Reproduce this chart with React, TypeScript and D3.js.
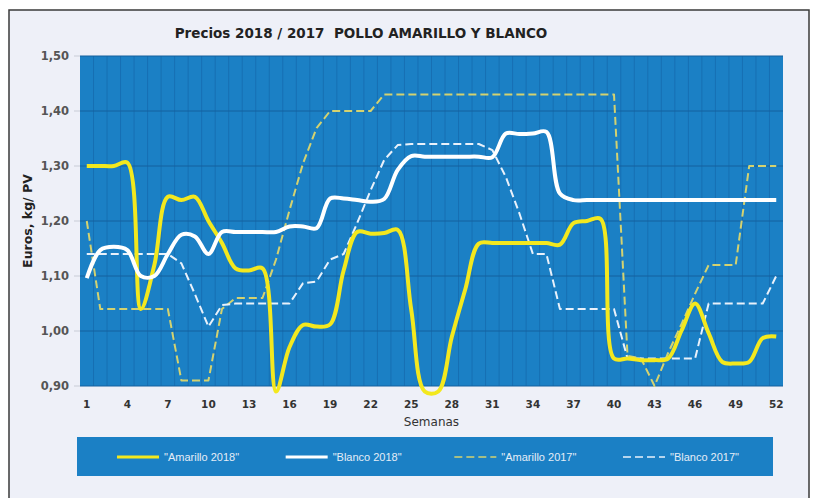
import React from 'react';
import * as d3 from 'd3';

const weeks = d3.range(1, 53);
const xTickWeeks = [1, 4, 7, 10, 13, 16, 19, 22, 25, 28, 31, 34, 37, 40, 43, 46, 49, 52];
const yTicks = [0.9, 1.0, 1.1, 1.2, 1.3, 1.4, 1.5];

const amarillo2018 = [
  1.30, 1.30, 1.30, 1.306, 1.04, 1.12, 1.244, 1.238, 1.244, 1.20,
  1.16, 1.114, 1.11, 1.114, 0.89, 0.971, 1.011, 1.008, 1.012, 1.11,
  1.18, 1.177, 1.178, 1.184, 1.039, 0.89, 0.89, 0.989, 1.076, 1.159,
  1.16, 1.16, 1.16, 1.16, 1.16, 1.157, 1.196, 1.20, 1.204, 0.95,
  0.95, 0.947, 0.947, 0.95, 1.001, 1.05, 0.996, 0.944, 0.941, 0.944,
  0.987, 0.99,
];

const blanco2018 = [
  1.096, 1.147, 1.153, 1.147, 1.10, 1.10, 1.14, 1.175, 1.172, 1.14,
  1.18, 1.18, 1.18, 1.18, 1.18, 1.19, 1.19, 1.187, 1.241, 1.241,
  1.238, 1.235, 1.24, 1.293, 1.318, 1.317, 1.317, 1.317, 1.317, 1.317,
  1.316, 1.359, 1.358, 1.359, 1.362, 1.25, 1.238, 1.238, 1.238, 1.238,
  1.238, 1.238, 1.238, 1.238, 1.238, 1.238, 1.238, 1.238, 1.238, 1.238,
  1.238, 1.238,
];

const amarillo2017 = [
  1.20, 1.04, 1.04, 1.04, 1.04, 1.04, 1.04, 0.91, 0.91, 0.91,
  1.04, 1.06, 1.06, 1.06, 1.13, 1.22, 1.305, 1.369, 1.40, 1.40,
  1.40, 1.40, 1.43, 1.43, 1.43, 1.43, 1.43, 1.43, 1.43, 1.43,
  1.43, 1.43, 1.43, 1.43, 1.43, 1.43, 1.43, 1.43, 1.43, 1.43,
  0.955, 0.95, 0.90, 0.96, 1.013, 1.068, 1.12, 1.12, 1.12, 1.30,
  1.30, 1.30,
];

const blanco2017 = [
  1.14, 1.14, 1.14, 1.14, 1.14, 1.14, 1.14, 1.123, 1.067, 1.008,
  1.047, 1.05, 1.05, 1.05, 1.05, 1.05, 1.087, 1.09, 1.13, 1.14,
  1.196, 1.256, 1.311, 1.338, 1.34, 1.34, 1.34, 1.34, 1.34, 1.34,
  1.329, 1.28, 1.214, 1.14, 1.14, 1.04, 1.04, 1.04, 1.04, 1.04,
  0.95, 0.95, 0.95, 0.95, 0.95, 0.95, 1.05, 1.05, 1.05, 1.05,
  1.05, 1.10,
];

const seriesNames = ['"Amarillo 2018"', '"Blanco 2018"', '"Amarillo 2017"', '"Blanco 2017"'];

const W = 814;
const H = 498;
const plot = { left: 80, top: 56, right: 783, bottom: 386 };

const App: React.FC = () => {
  const x = d3
    .scaleBand<number>()
    .domain(weeks)
    .range([plot.left, plot.right]);
  const cx = (w: number) => (x(w) as number) + x.bandwidth() / 2;

  const y = d3.scaleLinear().domain([0.9, 1.5]).range([plot.bottom, plot.top]);

  const smooth = d3
    .line<number>()
    .x((_, i) => cx(weeks[i]))
    .y(d => y(d))
    .curve(d3.curveCatmullRom.alpha(0.5));

  const straight = d3
    .line<number>()
    .x((_, i) => cx(weeks[i]))
    .y(d => y(d));

  const series = [
    { name: seriesNames[0], values: amarillo2018, color: '#f3e81e', width: 4, dash: '', gen: smooth },
    { name: seriesNames[1], values: blanco2018, color: '#ffffff', width: 4, dash: '', gen: smooth },
    { name: seriesNames[2], values: amarillo2017, color: '#d4d270', width: 2, dash: '8,4', gen: straight },
    { name: seriesNames[3], values: blanco2017, color: '#e9f1fb', width: 2, dash: '8,4', gen: straight },
  ];

  const fmt = (v: number) => d3.format('.2f')(v).replace('.', ',');
  const font = '"DejaVu Sans", Verdana, sans-serif';

  const legendX = d3.scalePoint<number>().domain([0, 1, 2, 3]).range([117, 623]);

  // dashed 2017 first, 2018 on top
  const drawOrder = [2, 3, 0, 1];

  return (
    <svg
      width={W}
      height={H}
      style={{ position: 'absolute', left: 0, top: 0, background: '#ffffff' }}
    >
      <rect x={9} y={10} width={800} height={500} fill="#eef0f8" stroke="#3a3a3a" strokeWidth={1.5} />

      <text
        x={361}
        y={38}
        textAnchor="middle"
        fontFamily={font}
        fontWeight="bold"
        fontSize={13.5}
        fill="#222"
      >
        Precios 2018 / 2017{'\u00a0\u00a0'}POLLO AMARILLO Y BLANCO
      </text>

      {/* plot area */}
      <rect
        x={plot.left}
        y={plot.top}
        width={plot.right - plot.left}
        height={plot.bottom - plot.top}
        fill="#1b80c5"
      />
      {weeks.slice(1).map(w => (
        <line
          key={'v' + w}
          x1={x(w)}
          x2={x(w)}
          y1={plot.top}
          y2={plot.bottom}
          stroke="#176fb3"
          strokeWidth={1}
        />
      ))}
      {yTicks.map(t => (
        <line
          key={'h' + t}
          x1={plot.left}
          x2={plot.right}
          y1={y(t)}
          y2={y(t)}
          stroke="#14609e"
          strokeWidth={1}
        />
      ))}

      {/* y axis */}
      {yTicks.map(t => (
        <g key={'yt' + t}>
          <line x1={74} x2={plot.left} y1={y(t)} y2={y(t)} stroke="#c8ccd6" />
          <text
            x={69}
            y={y(t)}
            dy="0.35em"
            textAnchor="end"
            fontFamily={font}
            fontWeight="bold"
            fontSize={11.5}
            fill="#555"
          >
            {fmt(t)}
          </text>
        </g>
      ))}
      <text
        transform={`translate(32, ${(plot.top + plot.bottom) / 2}) rotate(-90)`}
        textAnchor="middle"
        fontFamily={font}
        fontWeight="bold"
        fontSize={12.5}
        fill="#222"
      >
        Euros, kg/ PV
      </text>

      {/* x axis */}
      {xTickWeeks.map(w => (
        <text
          key={'xt' + w}
          x={cx(w)}
          y={408}
          textAnchor="middle"
          fontFamily={font}
          fontWeight="bold"
          fontSize={10.5}
          fill="#333"
        >
          {w}
        </text>
      ))}
      <text
        x={(plot.left + plot.right) / 2}
        y={426}
        textAnchor="middle"
        fontFamily={font}
        fontSize={12}
        fill="#333"
      >
        Semanas
      </text>

      {/* lines */}
      {drawOrder.map(i => {
        const s = series[i];
        return (
          <path
            key={s.name}
            d={s.gen(s.values) || ''}
            fill="none"
            stroke={s.color}
            strokeWidth={s.width}
            strokeDasharray={s.dash}
            strokeLinejoin="round"
          />
        );
      })}

      {/* legend */}
      <rect x={77} y={437} width={696} height={39} fill="#1b80c5" />
      {series.map((s, i) => {
        const lx = legendX(i) as number;
        return (
          <g key={'lg' + i}>
            <line
              x1={lx}
              x2={lx + 42}
              y1={457}
              y2={457}
              stroke={s.color}
              strokeWidth={s.width === 4 ? 3 : 1.5}
              strokeDasharray={s.dash}
            />
            <text
              x={lx + 47}
              y={457}
              dy="0.35em"
              fontFamily='"Liberation Sans", Arial, sans-serif'
              fontSize={11}
              fill="#e4edf7"
            >
              {s.name}
            </text>
          </g>
        );
      })}
    </svg>
  );
};

export default App;
